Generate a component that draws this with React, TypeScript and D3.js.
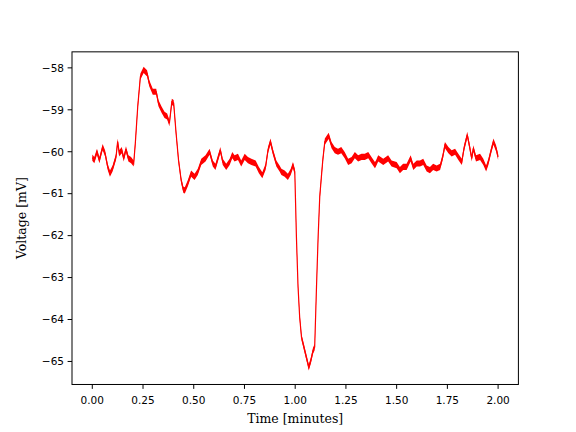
import React from "react";
import * as d3 from "d3";

const timeMin = [
  0.000, 0.010, 0.023, 0.035, 0.051, 0.063, 0.076, 0.087, 0.100, 0.117,
  0.125, 0.133, 0.145, 0.155, 0.166, 0.178, 0.191, 0.204, 0.212, 0.224,
  0.237, 0.253, 0.270, 0.281, 0.298, 0.315, 0.326, 0.342, 0.356, 0.369,
  0.380, 0.392, 0.401, 0.413, 0.425, 0.438, 0.449, 0.456, 0.471, 0.487,
  0.504, 0.520, 0.537, 0.558, 0.578, 0.594, 0.607, 0.631, 0.643, 0.660,
  0.677, 0.690, 0.701, 0.718, 0.734, 0.751, 0.767, 0.784, 0.805, 0.821,
  0.838, 0.854, 0.866, 0.878, 0.890, 0.907, 0.923, 0.932, 0.948, 0.964,
  0.978, 0.989, 0.998, 1.006, 1.014, 1.022, 1.031, 1.043, 1.055, 1.067,
  1.077, 1.088, 1.096, 1.105, 1.113, 1.121, 1.129, 1.136, 1.146, 1.165,
  1.179, 1.195, 1.211, 1.227, 1.244, 1.261, 1.278, 1.294, 1.310, 1.327,
  1.343, 1.360, 1.376, 1.393, 1.398, 1.409, 1.434, 1.458, 1.475, 1.500,
  1.516, 1.532, 1.549, 1.569, 1.582, 1.599, 1.615, 1.631, 1.648, 1.664,
  1.680, 1.697, 1.714, 1.727, 1.738, 1.755, 1.771, 1.788, 1.804, 1.821,
  1.832, 1.848, 1.858, 1.870, 1.878, 1.891, 1.911, 1.927, 1.941, 1.952,
  1.964, 1.977, 1.990, 2.000,
];

const voltageMv = [
  -60.14, -60.20, -60.00, -60.20, -59.89, -60.04, -60.36, -60.52, -60.40, -60.12,
  -59.76, -60.04, -59.96, -60.16, -59.94, -60.16, -60.20, -60.28, -59.80, -58.92,
  -58.21, -58.05, -58.13, -58.37, -58.57, -58.57, -58.84, -59.00, -59.12, -59.16,
  -59.32, -58.81, -58.84, -59.56, -60.20, -60.68, -60.91, -60.92, -60.75, -60.52,
  -60.60, -60.48, -60.24, -60.16, -60.00, -60.28, -60.36, -59.96, -60.24, -60.36,
  -60.24, -60.08, -60.16, -60.12, -60.28, -60.12, -60.20, -60.24, -60.28, -60.44,
  -60.56, -60.36, -59.96, -59.76, -60.00, -60.28, -60.40, -60.48, -60.52, -60.60,
  -60.48, -60.32, -60.48, -62.03, -63.22, -63.94, -64.42, -64.66, -64.90, -65.14,
  -64.98, -64.74, -64.66, -63.22, -62.03, -61.07, -60.60, -60.20, -59.76, -59.62,
  -59.84, -59.96, -60.00, -59.96, -60.08, -60.24, -60.20, -60.08, -60.16, -60.12,
  -60.12, -60.08, -60.20, -60.32, -60.28, -60.16, -60.24, -60.16, -60.28, -60.32,
  -60.44, -60.36, -60.36, -60.16, -60.36, -60.28, -60.28, -60.24, -60.40, -60.44,
  -60.36, -60.40, -60.36, -60.12, -59.84, -59.96, -60.04, -60.00, -60.12, -60.24,
  -59.92, -59.60, -59.84, -60.16, -59.92, -60.16, -60.12, -60.24, -60.40, -60.24,
  -60.00, -59.76, -59.92, -60.12,
];

const xTicks = [0, 0.25, 0.5, 0.75, 1.0, 1.25, 1.5, 1.75, 2.0];
const yTicks = [-65, -64, -63, -62, -61, -60, -59, -58];

const W = 576;
const H = 432;
const L = 72;
const R = 518.4;
const T = 51.84;
const B = 384.48;

export default function App() {
  const x = d3.scaleLinear().domain([-0.1, 2.1]).range([L, R]);
  const y = d3.scaleLinear().domain([-65.549, -57.618]).range([B, T]);
  const pts = timeMin.map((t, i) => [t, voltageMv[i]] as [number, number]);
  const half = 3.1;
  const area = d3
    .area<[number, number]>()
    .x((d) => x(d[0]))
    .y0((d) => y(d[1]) + half)
    .y1((d) => y(d[1]) - half)
    .curve(d3.curveLinear)(pts) as string;
  const line = d3
    .line<[number, number]>()
    .x((d) => x(d[0]))
    .y((d) => y(d[1]))(pts) as string;

  const sans = "DejaVu Sans, sans-serif";
  const serif = "DejaVu Serif, serif";

  return (
    <svg
      width={W}
      height={H}
      style={{ position: "absolute", left: 0, top: 0, background: "#fff" }}
    >
      <rect x={0} y={0} width={W} height={H} fill="#fff" />
      <defs>
        <clipPath id="plotclip">
          <rect x={L} y={T} width={R - L} height={B - T} />
        </clipPath>
      </defs>
      <g clipPath="url(#plotclip)">
        <path d={area} fill="#ff0000" stroke="none" />
        <path d={line} fill="none" stroke="#ff0000" strokeWidth={1.2} />
      </g>
      <rect
        x={L}
        y={T}
        width={R - L}
        height={B - T}
        fill="none"
        stroke="#000"
        strokeWidth={1}
      />
      {xTicks.map((t) => (
        <g key={"x" + t}>
          <line x1={x(t)} x2={x(t)} y1={B} y2={B + 4.4} stroke="#000" strokeWidth={1} />
          <text
            x={x(t)}
            y={403.5}
            fontFamily={sans}
            fontSize={10.5}
            textAnchor="middle"
            fill="#000"
          >
            {t.toFixed(2)}
          </text>
        </g>
      ))}
      {yTicks.map((v) => (
        <g key={"y" + v}>
          <line x1={L - 4.4} x2={L} y1={y(v)} y2={y(v)} stroke="#000" strokeWidth={1} />
          <text
            x={L - 8}
            y={y(v)}
            dy="0.36em"
            fontFamily={sans}
            fontSize={10.5}
            textAnchor="end"
            fill="#000"
          >
            {"\u2212" + Math.abs(v)}
          </text>
        </g>
      ))}
      <text
        x={(L + R) / 2}
        y={422.5}
        fontFamily={serif}
        fontSize={12.5}
        textAnchor="middle"
        fill="#000"
      >
        Time [minutes]
      </text>
      <text
        transform={`translate(26, ${(T + B) / 2}) rotate(-90)`}
        fontFamily={serif}
        fontSize={12.5}
        textAnchor="middle"
        fill="#000"
      >
        Voltage [mV]
      </text>
    </svg>
  );
}
